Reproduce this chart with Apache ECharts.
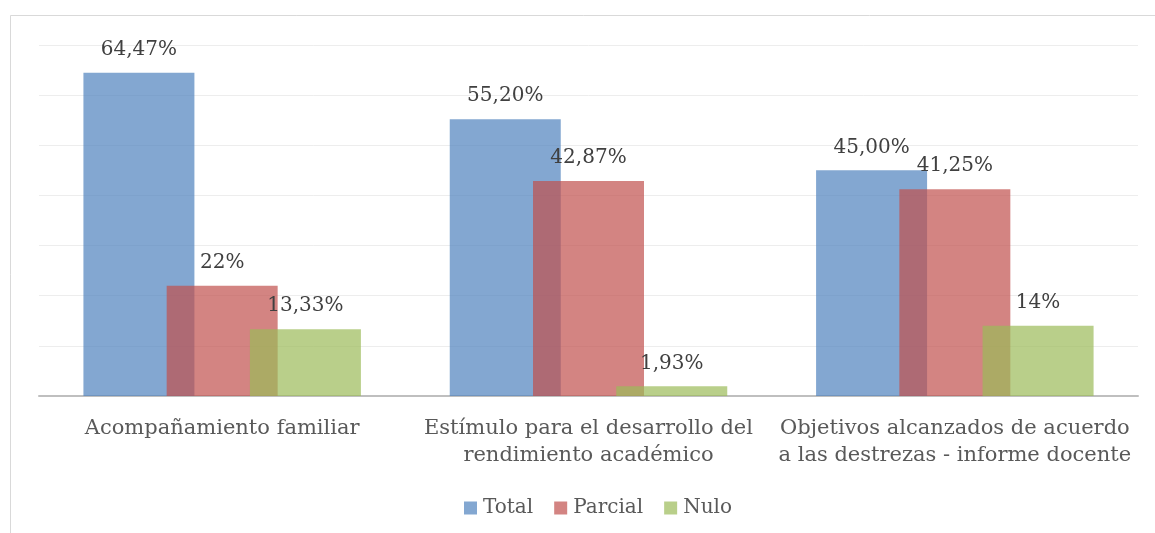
<!DOCTYPE html>
<html>
<head>
<meta charset="utf-8">
<script src="https://cdn.jsdelivr.net/npm/echarts@6/dist/echarts.min.js"></script>
<style>
  html, body { margin: 0; padding: 0; background: #fff; }
  #chart { width: 1155px; height: 533px; }
</style>
</head>
<body>
<div id="chart"></div>
<script>
// Categories (line breaks as shown under the axis)
const categories = [
  'Acompañamiento familiar',
  'Estímulo para el desarrollo del\nrendimiento académico',
  'Objetivos alcanzados de acuerdo\na las destrezas - informe docente'
];
const seriesNames = ['Total', 'Parcial', 'Nulo'];
const totalValues = [64.47, 55.20, 45.00];
const parcialValues = [22, 42.87, 41.25];
const nuloValues = [13.33, 1.93, 14];
// Label text per bar, as printed
const totalLabels = ['64,47%', '55,20%', '45,00%'];
const parcialLabels = ['22%', '42,87%', '41,25%'];
const nuloLabels = ['13,33%', '1,93%', '14%'];

const FONT = '"DejaVu Serif", serif';
const colors = ['rgba(79,129,189,0.7)', 'rgba(192,80,77,0.7)', 'rgba(155,187,89,0.7)'];

function makeSeries(name, values, labels, color) {
  return {
    name: name,
    type: 'bar',
    data: values,
    barWidth: 111,
    barGap: '-25%',
    barCategoryGap: '24%',
    itemStyle: { color: color },
    label: {
      show: true,
      position: 'top',
      distance: 13,
      color: '#404040',
      fontFamily: FONT,
      fontSize: 20,
      formatter: p => labels[p.dataIndex]
    }
  };
}

const chart = echarts.init(document.getElementById('chart'));
chart.setOption({
  animation: false,
  backgroundColor: '#fff',
  graphic: [{
    type: 'rect',
    shape: { x: 10.5, y: 15.5, width: 1300, height: 700 },
    style: { fill: 'none', stroke: '#D9D9D9', lineWidth: 1 },
    silent: true,
    z: -10
  }],
  grid: { left: 39, right: 17, top: 45, bottom: 137 },
  legend: {
    bottom: 10,
    left: 459,
    itemWidth: 13,
    itemHeight: 13,
    itemGap: 21,
    icon: 'rect',
    textStyle: { color: '#595959', fontFamily: FONT, fontSize: 20, padding: [0, 0, 0, 1] },
    data: seriesNames
  },
  xAxis: {
    type: 'category',
    data: categories,
    axisTick: { show: false },
    axisLine: { lineStyle: { color: '#BFBFBF', width: 2 } },
    axisLabel: {
      color: '#595959',
      fontFamily: FONT,
      fontSize: 21,
      lineHeight: 27,
      margin: 19,
      interval: 0
    }
  },
  yAxis: {
    type: 'value',
    min: 0,
    max: 70,
    interval: 10,
    axisLabel: { show: false },
    axisLine: { show: false },
    axisTick: { show: false },
    splitLine: { lineStyle: { color: '#EDEDED', width: 1 } }
  },
  series: [
    makeSeries(seriesNames[0], totalValues, totalLabels, colors[0]),
    makeSeries(seriesNames[1], parcialValues, parcialLabels, colors[1]),
    makeSeries(seriesNames[2], nuloValues, nuloLabels, colors[2])
  ]
});
</script>
</body>
</html>
